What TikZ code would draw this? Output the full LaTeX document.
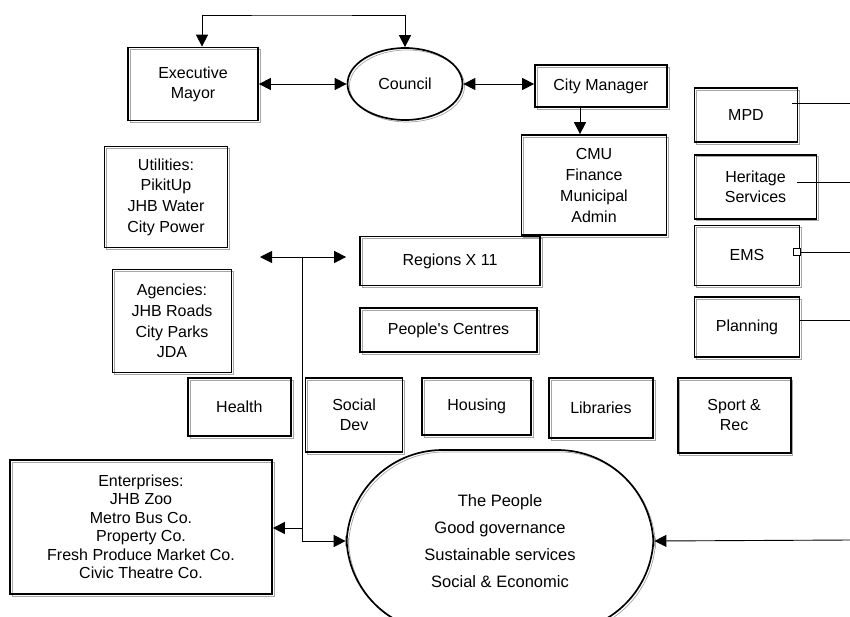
\documentclass[tikz,border=0pt]{standalone}
\usepackage{fontspec}
\setmainfont{Liberation Sans}
\usetikzlibrary{positioning,shapes.geometric,arrows.meta}

\tikzset{
  dept/.style={draw, line width=1.7pt, align=center, inner sep=0pt,
    font=\fontsize{16}{20}\selectfont,
    preaction={draw=gray!70, line width=0.7pt, transform canvas={shift={(2pt,-2pt)}}}},
  hall/.style={dept, ellipse},
  link/.style={line width=0.9pt},
  >={Triangle[length=12pt,width=12pt]}
}

\begin{document}
\begin{tikzpicture}[x=1pt, y=-1pt]
\useasboundingbox (0,0) rectangle (850,616);
\clip (0,0) rectangle (850,616);

%the top of the council
\node[dept, minimum width=130pt, minimum height=73pt] (mayor) at (193,84) {Executive\\Mayor};
\node[hall, minimum width=115pt, minimum height=72pt] (council) at (405,84) {Council};
\node[dept, minimum width=132pt, minimum height=42pt] (cm) at (601,86) {City Manager};
\node[dept, minimum width=145pt, minimum height=100pt, font=\fontsize{16}{21}\selectfont] (cmu) at (594,185) {CMU\\Finance\\Municipal\\Admin};

%the column on the right
\node[dept, minimum width=103pt, minimum height=54pt] (mpd) at (746,115) {MPD};
\node[dept, minimum width=122pt, minimum height=64pt, below=11pt of mpd.south west, anchor=north west] (her) {Heritage\\Services};
\node[dept, minimum width=105pt, minimum height=60pt, below=5pt of her.south west, anchor=north west] (ems) {EMS};
\node[dept, minimum width=105pt, minimum height=60pt, below=10pt of ems.south west, anchor=north west] (plan) {Planning};
\node[draw, fill=white, line width=0.8pt, minimum size=7pt, inner sep=0pt] (emsport) at (797,252) {};

%utilities, agencies and regions
\node[dept, minimum width=123pt, minimum height=101pt, font=\fontsize{16}{20.7}\selectfont] (util) at (166,197) {Utilities:\\PikitUp\\JHB Water\\City Power};
\node[dept, minimum width=119pt, minimum height=103pt, font=\fontsize{16}{20.7}\selectfont] (agen) at (172,321) {Agencies:\\JHB Roads\\City Parks\\JDA};
\node[dept, minimum width=180pt, minimum height=49pt] (regions) at (450,261) {Regions X 11};
\node[dept, minimum width=177pt, minimum height=44pt, below=21pt of regions.south west, anchor=north west] (pc) {People\textquotesingle s Centres};

%the departments along the bottom
\node[dept, minimum width=103pt, minimum height=58pt, anchor=north west] (health) at (187,377) {Health};
\node[dept, minimum width=97pt, minimum height=74pt, right=13pt of health.north east, anchor=north west] (social) {Social\\Dev};
\node[dept, minimum width=109pt, minimum height=57pt, right=18pt of social.north east, anchor=north west] (housing) {Housing};
\node[dept, minimum width=104pt, minimum height=60pt, right=16pt of housing.north east, anchor=north west] (lib) {Libraries};
\node[dept, minimum width=113pt, minimum height=75pt, right=23pt of lib.north east, anchor=north west] (sport) {Sport \&\\Rec};

\node[dept, minimum width=262pt, minimum height=134pt, font=\fontsize{16}{18.5}\selectfont] (ent) at (141,527) {Enterprises:\\JHB Zoo\\Metro Bus Co.\\Property Co.\\Fresh Produce Market Co.\\Civic Theatre Co.};
\node[dept, rounded corners=96pt, minimum width=307pt, minimum height=182pt, font=\fontsize{16.5}{27}\selectfont] (people) at (500,541) {The People\\Good governance\\Sustainable services\\Social \& Economic};

%free ends and joints
\coordinate (topbar) at (300,15);
\coordinate (hub) at (302,257);
\coordinate (agtip) at (260,257);
\coordinate (entjoin) at (302,528);
\coordinate (mpdout) at (850,103);
\coordinate (herout) at (850,182);
\coordinate (emsout) at (850,252);
\coordinate (planout) at (850,320);
\coordinate (peopleout) at (850,540);

%connectors
\draw[link, <->] ([xshift=9pt]mayor.north) |- (topbar) -| (council.north);
\draw[link, <->] (mayor.east) -- (council.west);
\draw[link, <->] (council.east) -- (council.east -| cm.west);
\draw[link, ->] ([xshift=-21pt]cm.south) -- ([xshift=-14pt]cmu.north);
\draw[link, <->] (agtip) -- ([xshift=-13pt]regions.west |- hub);
\draw[link, ->] (hub) |- (people.west);
\draw[link, ->] (entjoin) -- (entjoin -| ent.east);
\draw[link, ->] (peopleout) -- (people.east);
\draw[link] ([xshift=-6pt]mpd.east |- mpdout) -- (mpdout);
\draw[link] ([xshift=-20pt]her.east |- herout) -- (herout);
\draw[link] (emsport) -- (emsout);
\draw[link] (plan.east |- planout) -- (planout);
\end{tikzpicture}
\end{document}
